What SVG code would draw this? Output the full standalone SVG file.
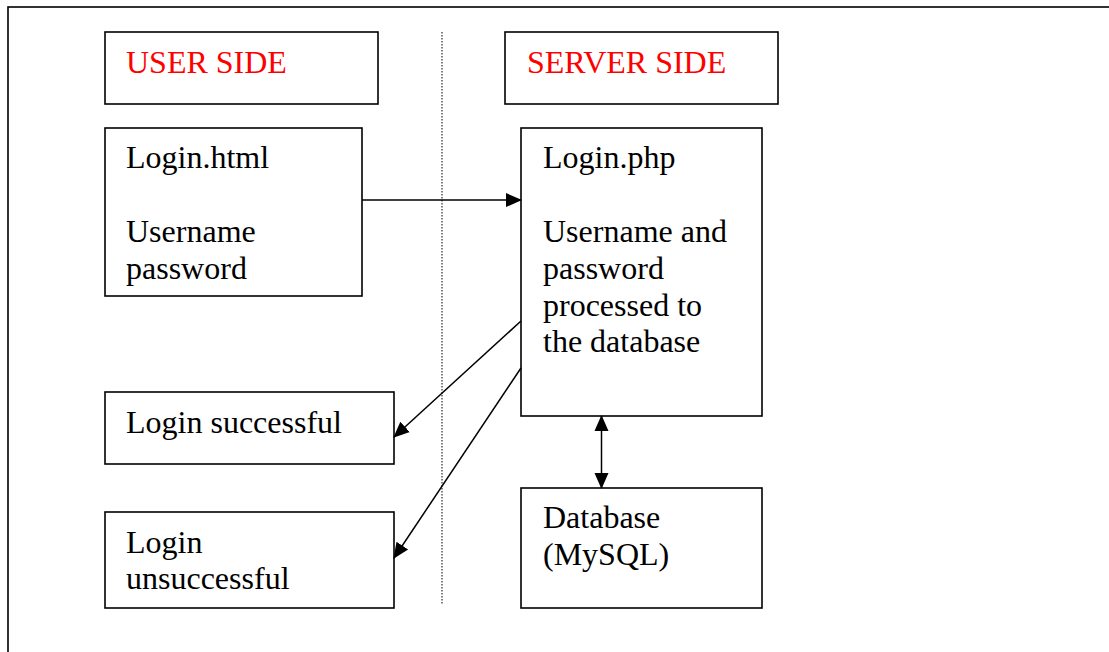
<svg xmlns="http://www.w3.org/2000/svg" width="1109" height="652" viewBox="0 0 1109 652">
<defs>
<style>
.box{fill:#fff;stroke:#000;stroke-width:1.6}
.t{font-family:"Liberation Serif","Times New Roman",serif;font-size:32px;fill:#000}
.r{fill:#ff0000}
.c{stroke:#000;stroke-width:1.5;fill:none}
</style>
<marker id="ah" markerUnits="userSpaceOnUse" markerWidth="16" markerHeight="16" viewBox="0 0 16 16" refX="15" refY="8" orient="auto-start-reverse">
<path d="M0,1 L16,8 L0,15 Z" fill="#000"/>
</marker>
</defs>
<rect width="1109" height="652" fill="#fff"/>
<rect x="8" y="7" width="1200" height="700" fill="none" stroke="#000" stroke-width="1.6"/>
<line x1="442" y1="32" x2="442" y2="605" stroke="#000" stroke-width="1" stroke-dasharray="1.5,1.5"/>
<g id="user-side"><rect class="box" x="105" y="32" width="273" height="72"/><text class="t r" x="126" y="73">USER SIDE</text></g>
<g id="server-side"><rect class="box" x="505" y="32" width="273" height="72"/><text class="t r" x="527" y="73">SERVER SIDE</text></g>
<g id="login-html"><rect class="box" x="105" y="128" width="257" height="168"/><text class="t" x="126" y="168">Login.html</text><text class="t" x="126" y="242">Username</text><text class="t" x="126" y="279">password</text></g>
<g id="login-php"><rect class="box" x="521" y="128" width="241" height="288"/><text class="t" x="543" y="168">Login.php</text><text class="t" x="543" y="242">Username and</text><text class="t" x="543" y="279">password</text><text class="t" x="543" y="316">processed to</text><text class="t" x="543" y="352">the database</text></g>
<g id="login-successful"><rect class="box" x="105" y="392" width="289" height="72"/><text class="t" x="126" y="433">Login successful</text></g>
<g id="login-unsuccessful"><rect class="box" x="105" y="512" width="289" height="96"/><text class="t" x="126" y="553">Login</text><text class="t" x="126" y="589">unsuccessful</text></g>
<g id="database"><rect class="box" x="521" y="488" width="241" height="120"/><text class="t" x="543" y="528">Database</text><text class="t" x="543" y="565">(MySQL)</text></g>
<g id="connectors">
<line class="c" x1="362" y1="200" x2="521" y2="200" marker-end="url(#ah)"/>
<line class="c" x1="521" y1="321" x2="394" y2="437" marker-end="url(#ah)"/>
<line class="c" x1="521" y1="368" x2="394" y2="558" marker-end="url(#ah)"/>
<line class="c" x1="601.5" y1="416" x2="601.5" y2="488" marker-start="url(#ah)" marker-end="url(#ah)"/>
</g>
</svg>
